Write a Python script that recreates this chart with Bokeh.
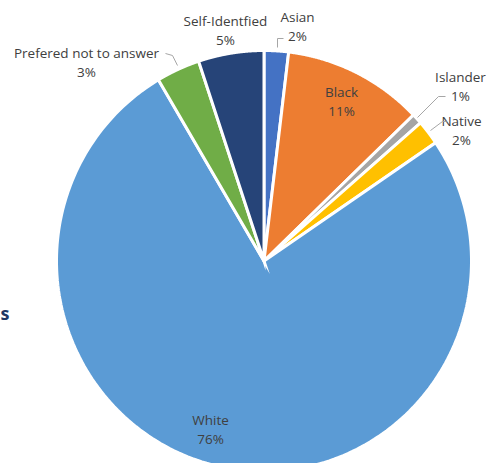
import numpy as np
from bokeh.plotting import figure
from bokeh.models import Range1d, ColumnDataSource
from bokeh.core.properties import value
from bokeh.embed import file_html
from bokeh.resources import INLINE

# ---- data ----
categories = ["Asian", "Black", "Islander", "Native", "White", "Prefered not to answer", "Self-Identfied"]
shares = [1.9, 10.9, 0.8, 1.9, 76.0, 3.4, 5.1]
pct_labels = ["2%", "11%", "1%", "2%", "76%", "3%", "5%"]
colors = ["#4472C4", "#ED7D31", "#A5A5A5", "#FFC000", "#5B9BD5", "#70AD47", "#264478"]

W, H = 489, 463
cx, cy = 263.5, H - 260.5
RX, RY = 207.5, 210.5

vals = np.array(shares, dtype=float)
frac = vals / vals.sum()
cum = np.concatenate([[0], np.cumsum(frac)])

xs, ys = [], []
for i in range(len(vals)):
    t = np.linspace(2 * np.pi * cum[i], 2 * np.pi * cum[i + 1], 200)
    xs.append(np.concatenate([[cx], cx + RX * np.sin(t)]))
    ys.append(np.concatenate([[cy], cy + RY * np.cos(t)]))

src = ColumnDataSource(dict(xs=xs, ys=ys, color=colors))

p = figure(width=W, height=H, x_range=Range1d(0, W), y_range=Range1d(0, H),
           toolbar_location=None, output_backend="svg", min_border=0,
           x_axis_type=None, y_axis_type=None)
p.grid.visible = False
p.outline_line_color = None
p.background_fill_color = "white"
p.border_fill_color = "white"

p.patches(xs="xs", ys="ys", fill_color="color", line_color="white",
          line_width=3, line_join="miter", source=src)

# label positions (pixel coords, y downward)
lab_pos = {
    "Asian": (297, 16),
    "Black": (341, 91),
    "Islander": (460, 76),
    "Native": (461, 120),
    "White": (210, 419),
    "Prefered not to answer": (86, 52),
    "Self-Identfied": (225, 20),
}
name_x, name_y, pct_x, pct_y, names, pcts = [], [], [], [], [], []
for c, pl in zip(categories, pct_labels):
    x, y = lab_pos[c]
    name_x.append(x); name_y.append(H - y)
    pct_x.append(x); pct_y.append(H - y - 19)
    names.append(c); pcts.append(pl)

p.text(x=name_x, y=name_y, text=names, text_font=value("Open Sans"),
       text_font_size="13.5px", text_color="#404040", text_align="center",
       text_baseline="middle")
p.text(x=pct_x, y=pct_y, text=pcts, text_font=value("Open Sans"),
       text_font_size="13.5px", text_color="#404040", text_align="center",
       text_baseline="middle")

# leader lines
leaders = [
    [(277, 47), (277, 38), (283, 38)],
    [(177, 65), (172, 55), (165, 53)],
    [(417, 117), (438, 96), (445, 96)],
    [(430, 130), (442, 121), (446, 121)],
]
for pts in leaders:
    p.line(x=[a for a, b in pts], y=[H - b for a, b in pts], line_color="#A6A6A6", line_width=1)

# cropped fragment of surrounding text
p.text(x=[0], y=[H - 312], text=["s"], text_font=value("Open Sans"),
       text_font_size="18px", text_font_style="bold", text_color="#1F3864",
       text_align="left", text_baseline="alphabetic")

open("out.html", "w").write(file_html(p, INLINE))
